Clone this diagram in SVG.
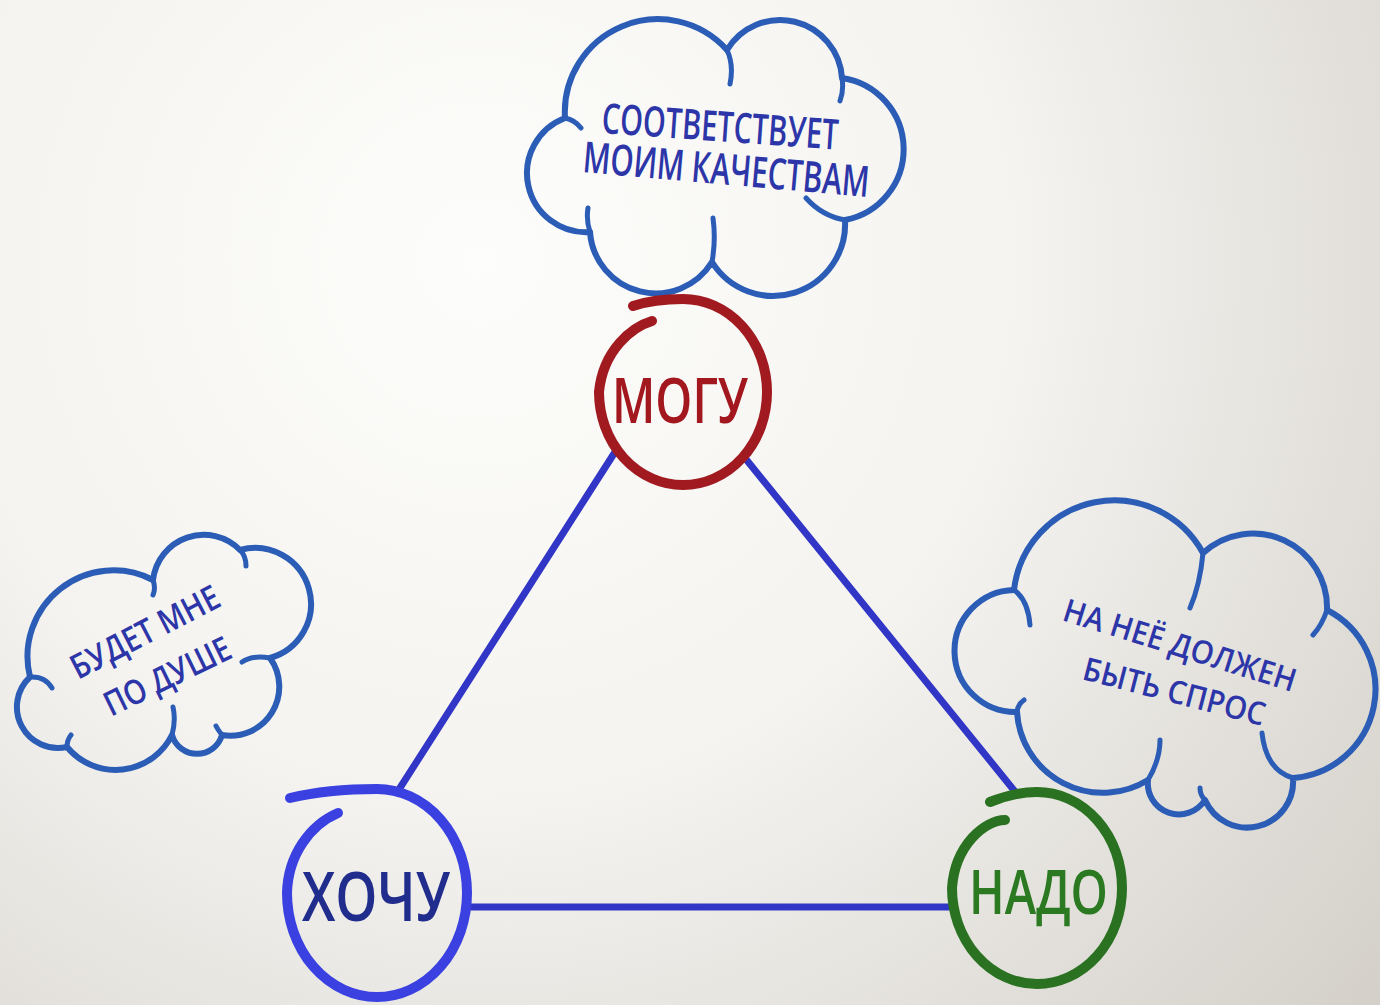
<svg xmlns="http://www.w3.org/2000/svg" width="1380" height="1005" viewBox="0 0 1380 1005">
  <defs>
    <radialGradient id="wall" gradientUnits="userSpaceOnUse" cx="480" cy="260" r="1200">
      <stop offset="0" stop-color="#fdfdfb"/>
      <stop offset="0.45" stop-color="#f4f3f0"/>
      <stop offset="1" stop-color="#d2cec7"/>
    </radialGradient>
    <style>
      .cloud { fill: none; stroke: #2b5cb6; stroke-width: 6; stroke-linecap: round; stroke-linejoin: round; }
      .hook { fill: none; stroke: #2b5cb6; stroke-width: 5; stroke-linecap: round; }
      .ctext { font-family: "Open Sans", "Liberation Sans", sans-serif; font-weight: 600; fill: #2d36a8; }
      .link { stroke: #3136c6; stroke-width: 7; stroke-linecap: round; fill: none; }
      .ring { fill: none; stroke-width: 10; stroke-linecap: round; }
      .ntext { font-family: "Open Sans", "Liberation Sans", sans-serif; font-weight: 600; }
    </style>
  </defs>

  <rect x="0" y="0" width="1380" height="1005" fill="url(#wall)"/>

  <!-- clouds -->
  <g id="cloud-top">
    <path class="cloud" d="M 565 118 A 93 93 0 0 1 727 50 A 62 62 0 0 1 842 78 A 72 72 0 0 1 845 220 A 72 72 0 0 1 712 262 A 66 66 0 0 1 590 232 A 59 59 0 0 1 565 118"/>
    <path class="hook" d="M 727 50 Q 734 65 730 84 M 842 78 Q 844 90 840 101 M 845 220 Q 822 216 806 198 M 712 262 Q 716 240 713 218 M 590 232 Q 586 220 588 208 M 565 118 Q 575 120 581 128"/>
    <text class="ctext" font-size="42" textLength="237" lengthAdjust="spacingAndGlyphs" transform="translate(601,133) rotate(4)">СООТВЕТСТВУЕТ</text>
    <text class="ctext" font-size="43" textLength="287" lengthAdjust="spacingAndGlyphs" transform="translate(582,172) rotate(5)">МОИМ КАЧЕСТВАМ</text>
  </g>

  <g id="cloud-left">
    <path class="cloud" d="M 30 677 A 86 86 0 0 1 153 580 A 51 51 0 0 1 240 550 A 56 56 0 0 1 270 658 A 49 49 0 0 1 222 735 A 26 26 0 0 1 172 735 A 63 63 0 0 1 67 747 A 41 41 0 0 1 30 677"/>
    <path class="hook" d="M 30 677 Q 45 676 52 688 M 153 580 Q 156 588 153 595 M 240 550 Q 246 556 246 566 M 270 658 Q 252 655 242 662 M 222 735 Q 218 730 216 726 M 172 735 Q 176 720 173 707 M 67 747 Q 67 740 71 735"/>
    <text class="ctext" font-size="34" textLength="163" lengthAdjust="spacingAndGlyphs" transform="translate(78,680) rotate(-27.3)">БУДЕТ МНЕ</text>
    <text class="ctext" font-size="34" textLength="137" lengthAdjust="spacingAndGlyphs" transform="translate(111,717) rotate(-26)">ПО ДУШЕ</text>
  </g>

  <g id="cloud-right">
    <path class="cloud" d="M 1014 590 A 101 101 0 0 1 1203 553 A 74 74 0 0 1 1327 610 A 89 89 0 0 1 1293 778 A 46 46 0 0 1 1205 800 A 31 31 0 0 1 1148 780 A 86 86 0 0 1 1017 712 A 61 61 0 0 1 1014 590"/>
    <path class="hook" d="M 1014 590 Q 1028 600 1030 625 M 1203 553 Q 1200 585 1190 608 M 1327 610 Q 1322 625 1313 635 M 1293 778 Q 1266 770 1262 733 M 1205 800 Q 1200 795 1200 788 M 1148 780 Q 1160 760 1160 740 M 1017 712 Q 1018 704 1024 700"/>
    <text class="ctext" font-size="32" textLength="242" lengthAdjust="spacingAndGlyphs" transform="translate(1061,620) rotate(17.3)">НА НЕЁ ДОЛЖЕН</text>
    <text class="ctext" font-size="32" textLength="187" lengthAdjust="spacingAndGlyphs" transform="translate(1081,679) rotate(14.5)">БЫТЬ СПРОС</text>
  </g>

  <!-- connectors -->
  <g id="connectors">
    <line class="link" x1="615" y1="452" x2="398" y2="791"/>
    <line class="link" x1="745" y1="458" x2="1017" y2="794"/>
    <line class="link" x1="466" y1="907" x2="953" y2="907"/>
  </g>

  <!-- nodes -->
  <g id="node-mogu">
    <path class="ring" stroke="#a01a1f" d="M 652 321 C 632 327 603 350 599 392 A 84 93 0 0 0 683 485 A 84 93 0 0 0 767 392 A 84 93 0 0 0 683 299 C 665 299 648 301 633 306"/>
    <text class="ntext" fill="#a3181e" font-size="63" textLength="136" lengthAdjust="spacingAndGlyphs" x="612" y="423">МОГУ</text>
  </g>

  <g id="node-hochu">
    <path class="ring" stroke="#3a41e0" stroke-width="11" d="M 338 813 C 310 825 288 855 287 893 A 90 104 0 0 0 377 997 A 90 104 0 0 0 467 893 A 90 104 0 0 0 377 789 C 345 789 315 792 290 798"/>
    <text class="ntext" fill="#212d8c" font-size="68" textLength="148" lengthAdjust="spacingAndGlyphs" x="302" y="921">ХОЧУ</text>
  </g>

  <g id="node-nado">
    <path class="ring" stroke="#2a7222" d="M 1005 820 C 985 820 955 845 952 888 A 85 96 0 0 0 1037 984 A 85 96 0 0 0 1122 888 A 85 96 0 0 0 1037 792 C 1020 792 1005 796 990 802"/>
    <text class="ntext" fill="#2b7a22" font-size="62" textLength="139" lengthAdjust="spacingAndGlyphs" x="969" y="914">НАДО</text>
  </g>
</svg>
